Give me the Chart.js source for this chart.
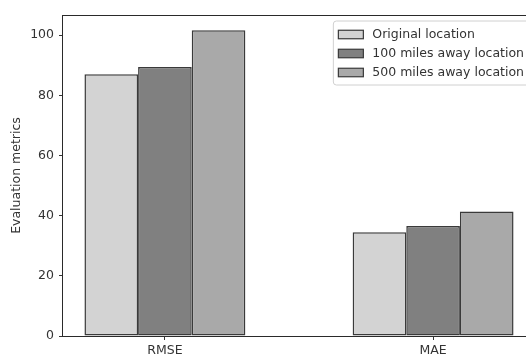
<!DOCTYPE html>
<html>
<head>
<meta charset="utf-8">
<script src="https://cdn.jsdelivr.net/npm/chart.js@4"></script>
<style>
  html, body { margin: 0; padding: 0; background: #fff; overflow: hidden; }
  #wrap { width: 526px; height: 356px; overflow: hidden; position: relative; }
  canvas { display: block; }
</style>
</head>
<body>
<div id="wrap"><canvas id="c" width="546" height="356"></canvas></div>
<script>
// Metrics and locations
const categories = ['RMSE', 'MAE'];
const seriesNames = ['Original location', '100 miles away location', '500 miles away location'];

// Error values per location, in category order
const originalValues = [87.0, 34.5];
const miles100Values = [89.4, 36.6];
const miles500Values = [101.6, 41.4];

// Value axis tick labels
const yTicks = [0, 20, 40, 60, 80, 100];

const seriesValues = [originalValues, miles100Values, miles500Values];
const fills = ['#d3d3d3', '#808080', '#a9a9a9'];
const edge = '#3a3a3a';
const ink = '#333333';
const FONT = 'DejaVu Sans';

Chart.defaults.font.family = FONT;
Chart.defaults.font.size = 12.5;
Chart.defaults.color = ink;

const datasets = seriesNames.map((name, s) => ({
  label: name,
  data: seriesValues[s].map((v, i) => ({ x: i, y: v })),
  backgroundColor: fills[s],
  borderColor: edge,
  borderWidth: 1.5,
  borderSkipped: false,
  categoryPercentage: 0.6,
  barPercentage: 1.0
}));

// Axes frame drawn over the bars, like spines
const framePlugin = {
  id: 'frame',
  afterDatasetsDraw(chart) {
    const { ctx, chartArea: a } = chart;
    ctx.save();
    ctx.strokeStyle = '#2a2a2a';
    ctx.lineWidth = 1;
    ctx.strokeRect(Math.round(a.left) - 0.5, Math.round(a.top) + 0.5,
                   Math.round(a.right - a.left) + 1, Math.round(a.bottom - a.top));
    ctx.restore();
  }
};

// Boxed legend in the upper-right corner of the plot area
const boxLegendPlugin = {
  id: 'boxLegend',
  afterDraw(chart) {
    const { ctx, chartArea: a } = chart;
    const fs = 12.5;
    const pad = 5, handleW = 25, handleH = 8.5, gap = 9, rowH = 19;
    ctx.save();
    ctx.font = fs + 'px "' + FONT + '"';
    const ds = chart.data.datasets;
    const textW = Math.max(...ds.map(d => ctx.measureText(d.label).width));
    const boxW = pad + handleW + gap + textW + pad;
    const boxH = pad * 2 + rowH * ds.length - 3;
    const right = a.right - 6;
    const left = right - boxW;
    const top = a.top + 6;
    // frame
    const r = 3;
    ctx.beginPath();
    ctx.moveTo(left + r, top);
    ctx.lineTo(right - r, top);
    ctx.quadraticCurveTo(right, top, right, top + r);
    ctx.lineTo(right, top + boxH - r);
    ctx.quadraticCurveTo(right, top + boxH, right - r, top + boxH);
    ctx.lineTo(left + r, top + boxH);
    ctx.quadraticCurveTo(left, top + boxH, left, top + boxH - r);
    ctx.lineTo(left, top + r);
    ctx.quadraticCurveTo(left, top, left + r, top);
    ctx.closePath();
    ctx.fillStyle = 'rgba(255,255,255,0.8)';
    ctx.fill();
    ctx.strokeStyle = '#d0d0d0';
    ctx.lineWidth = 1;
    ctx.stroke();
    // entries
    ds.forEach((d, i) => {
      const cy = top + pad + rowH * i + rowH / 2 - 1;
      const hx = left + pad;
      ctx.fillStyle = d.backgroundColor;
      ctx.fillRect(hx, cy - handleH / 2, handleW, handleH);
      ctx.strokeStyle = d.borderColor;
      ctx.lineWidth = 1.2;
      ctx.strokeRect(hx, cy - handleH / 2, handleW, handleH);
      ctx.fillStyle = ink;
      ctx.textAlign = 'left';
      ctx.textBaseline = 'middle';
      ctx.fillText(d.label, hx + handleW + gap, cy);
    });
    ctx.restore();
  }
};

new Chart(document.getElementById('c'), {
  type: 'bar',
  data: { datasets },
  options: {
    responsive: false,
    animation: false,
    layout: { padding: { top: 15, right: 11, left: 0, bottom: 0 } },
    plugins: { legend: { display: false }, tooltip: { enabled: false } },
    scales: {
      x: {
        type: 'linear',
        min: -0.38,
        max: 1.38,
        offset: false,
        afterBuildTicks: s => { s.ticks = categories.map((_, i) => ({ value: i })); },
        afterFit: s => { s.height = 20; },
        grid: { offset: false, drawOnChartArea: false, drawTicks: true, tickLength: 4, color: ink },
        border: { display: false },
        ticks: {
          autoSkip: false, maxRotation: 0, padding: 3, color: ink,
          callback: (v, i) => categories[i]
        }
      },
      y: {
        min: 0,
        max: 106.7,
        afterBuildTicks: s => { s.ticks = yTicks.map(v => ({ value: v })); },
        afterFit: s => { s.width = 63; },
        grid: { drawOnChartArea: false, drawTicks: true, tickLength: 4, color: ink },
        border: { display: false },
        ticks: { padding: 5, color: ink },
        title: {
          display: true,
          text: 'Evaluation metrics',
          color: ink,
          font: { size: 12.5 },
          padding: { top: 9, bottom: 0 }
        }
      }
    }
  },
  plugins: [framePlugin, boxLegendPlugin]
});
</script>
</body>
</html>
